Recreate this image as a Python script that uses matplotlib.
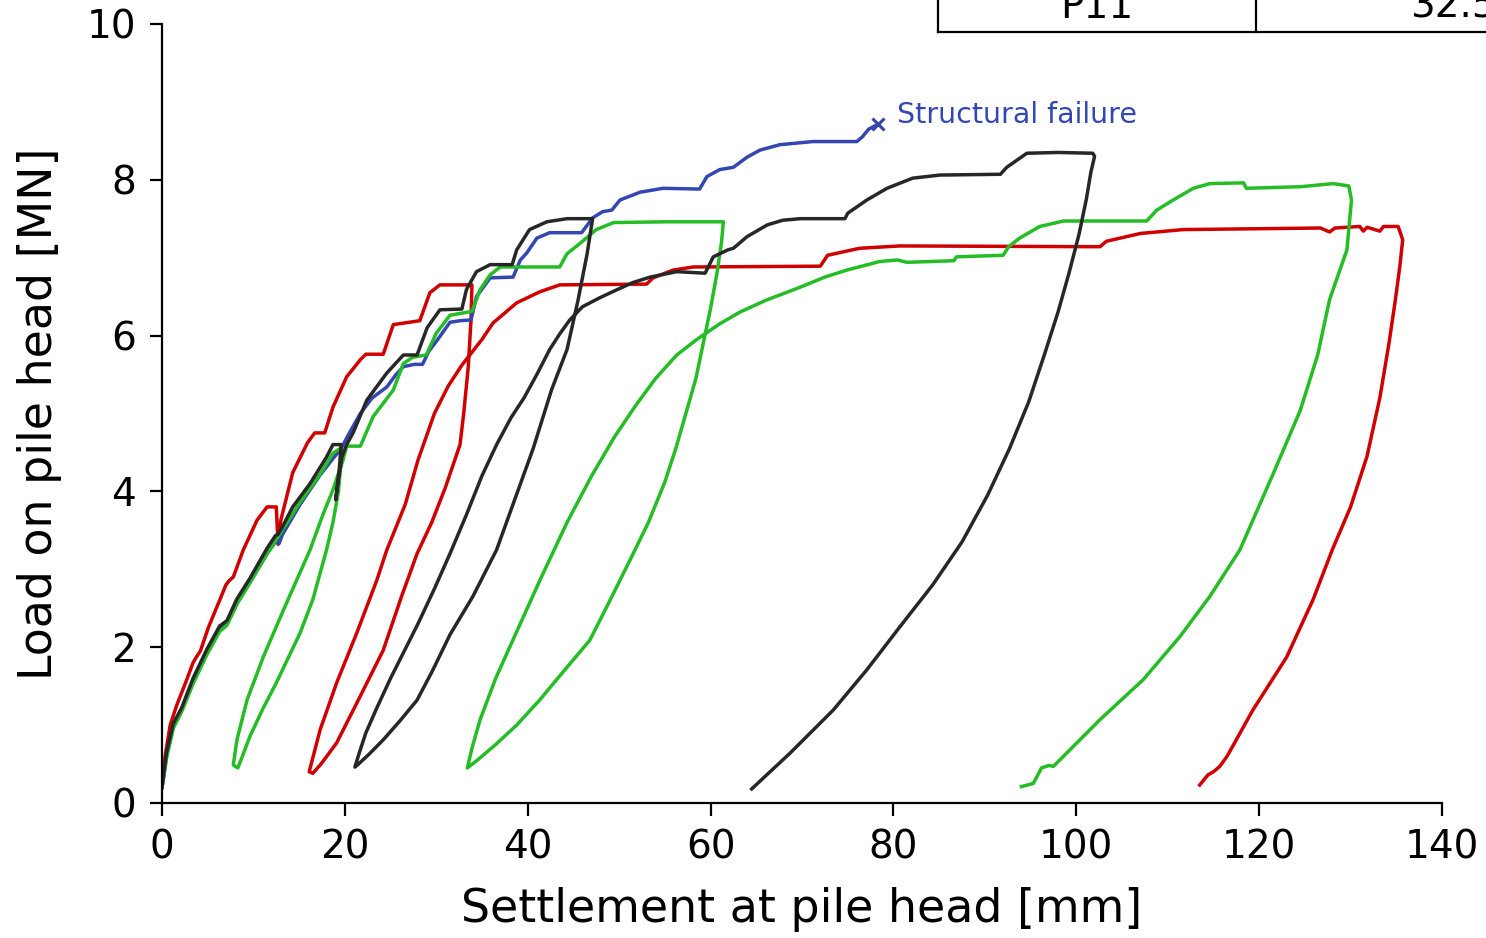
import matplotlib
matplotlib.use("Agg")
import matplotlib.pyplot as plt

# settlement at pile head [mm] and load [MN], full load/unload/reload trace per test
red_s = [0, 0.15, 0.33, 0.9, 1.6, 2.7, 3.4, 3.8, 4.2, 5.1, 6.3, 7.0, 7.4, 7.8, 8.9, 10.4, 11.5, 12.5, 12.7, 13.0,
         14.3, 15.9, 16.7, 17.8, 18.7, 20.2, 21.7, 22.3, 24.2, 25.3, 28.2, 29.3, 30.4, 33.9,
         33.8, 33.5, 33.0, 32.6, 31.0, 29.5, 27.9, 26.2, 24.2, 21.3, 19.1, 17.4, 16.5,
         16.1, 17.3, 19.1, 21.3, 23.5, 24.6, 26.6, 28.0, 29.8, 31.3, 32.8, 34.0, 35.0, 36.2, 38.8, 41.3, 43.5,
         53.0, 53.7, 55.9, 58.1, 72.0, 72.8, 76.3, 80.7, 102.6, 103.3, 107.0, 111.7, 126.7, 127.7, 128.3,
         131.0, 131.4, 131.8, 133.2, 133.6, 135.2,
         135.7, 135.4, 134.9, 134.2, 133.2, 131.8, 130.0, 128.0, 125.9, 123.0, 119.3, 116.5, 115.7, 115.0,
         114.4, 113.5]
red_q = [0.2, 0.35, 0.59, 1.0, 1.25, 1.58, 1.8, 1.88, 1.95, 2.26, 2.6, 2.8, 2.86, 2.9, 3.25, 3.63, 3.8, 3.8, 3.32, 3.63,
         4.24, 4.62, 4.75, 4.75, 5.08, 5.47, 5.69, 5.76, 5.76, 6.14, 6.19, 6.55, 6.65, 6.65,
         6.2, 5.6, 5.0, 4.6, 4.05, 3.6, 3.2, 2.65, 1.96, 1.28, 0.77, 0.5, 0.38,
         0.40, 0.94, 1.54, 2.18, 2.86, 3.25, 3.83, 4.4, 5.0, 5.35, 5.62, 5.8, 5.95, 6.16, 6.42, 6.56, 6.65,
         6.66, 6.74, 6.84, 6.88, 6.89, 7.03, 7.12, 7.15, 7.14, 7.21, 7.31, 7.36, 7.38, 7.33, 7.38,
         7.4, 7.34, 7.39, 7.34, 7.4, 7.4,
         7.23, 6.9, 6.46, 5.9, 5.2, 4.45, 3.8, 3.25, 2.61, 1.87, 1.19, 0.6, 0.47, 0.40,
         0.36, 0.23]

blue_s = [0, 0.14, 0.5, 1.24, 2.15, 3.4, 4.9, 6.3, 7.1, 8.2, 9.6, 11.5, 12.4, 12.8, 13.2, 15.1, 17.3, 18.9, 19.5, 20.5,
          21.7, 23.0, 24.6, 25.6, 26.4, 27.6, 28.5, 29.2, 30.1, 31.5, 32.6, 33.8, 34.4, 35.9, 38.4, 39.2, 39.9, 41.0,
          42.4, 45.9, 47.1, 48.2, 49.2, 50.1, 52.3, 54.8, 58.8, 59.6, 61.0, 62.5, 64.0, 65.4, 67.6, 71.2, 76.0, 76.6,
          77.3, 78.3]
blue_q = [0.2, 0.3, 0.6, 0.98, 1.19, 1.55, 1.93, 2.23, 2.3, 2.57, 2.83, 3.2, 3.35, 3.33, 3.45, 3.83, 4.21, 4.45, 4.53, 4.75,
          5.0, 5.2, 5.34, 5.5, 5.6, 5.63, 5.63, 5.8, 5.94, 6.17, 6.19, 6.2, 6.5, 6.74, 6.75, 6.97, 7.06, 7.25,
          7.32, 7.32, 7.51, 7.59, 7.61, 7.74, 7.84, 7.89, 7.88, 8.04, 8.13, 8.16, 8.29, 8.38, 8.45, 8.49, 8.49, 8.55,
          8.65, 8.71]

green_s = [0, 0.14, 0.5, 1.24, 2.15, 3.4, 4.9, 6.3, 7.1, 8.2, 9.6, 11.5, 12.5, 15.1, 17.3, 18.7, 19.5,
           19.6, 19.3, 18.7, 18.0, 16.5, 15.1, 12.5, 11.0, 9.6, 8.8, 8.3, 8.0,
           7.8, 8.2, 9.3, 11.1, 13.3, 16.2, 17.6, 18.7, 19.8, 20.2, 21.7, 23.1, 25.3, 26.4, 27.4, 28.9, 30.0, 31.5,
           33.9, 34.8, 35.9, 37.0, 43.5, 44.3, 45.7, 47.5, 49.4, 55.2, 61.4,
           61.2, 60.7, 60.0, 59.2, 58.4, 57.3, 56.2, 55.0, 53.2, 51.2, 49.0, 46.8, 44.0, 41.3, 38.8, 36.5, 34.5, 33.4,
           33.9, 34.8, 36.5, 38.8, 41.5, 44.3, 47.0, 49.5, 51.8, 54.0, 56.3, 58.5, 61.0, 63.2, 66.0, 69.8, 72.5,
           74.9, 78.5, 80.4, 81.5, 86.6, 86.9, 92.0, 92.6, 93.8, 96.0, 98.6, 107.7, 108.8, 110.6, 112.8, 114.6,
           118.3, 118.6, 124.5, 128.1, 129.8,
           130.1, 129.6, 127.7, 126.4, 124.5, 121.7, 117.9, 114.6, 111.3, 107.3, 102.6, 97.5, 97.0, 96.2, 95.3, 94.0]
green_q = [0.2, 0.3, 0.58, 0.96, 1.17, 1.53, 1.9, 2.2, 2.28, 2.55, 2.82, 3.2, 3.38, 3.86, 4.22, 4.49, 4.55,
           4.4, 4.0, 3.6, 3.25, 2.61, 2.18, 1.54, 1.2, 0.85, 0.6, 0.45, 0.47,
           0.49, 0.81, 1.32, 1.88, 2.48, 3.25, 3.7, 4.02, 4.4, 4.58, 4.58, 4.96, 5.3, 5.64, 5.72, 5.75, 6.03, 6.26,
           6.31, 6.59, 6.78, 6.88, 6.88, 7.05, 7.18, 7.36, 7.45, 7.46, 7.46,
           7.2, 6.8, 6.35, 5.9, 5.45, 5.0, 4.55, 4.12, 3.6, 3.12, 2.6, 2.09, 1.7, 1.32, 1.0, 0.75, 0.55, 0.45,
           0.7, 1.07, 1.6, 2.2, 2.9, 3.6, 4.2, 4.7, 5.1, 5.45, 5.75, 5.95, 6.15, 6.3, 6.45, 6.62, 6.75,
           6.84, 6.95, 6.97, 6.94, 6.96, 7.01, 7.03, 7.14, 7.25, 7.40, 7.47, 7.47, 7.61, 7.74, 7.89, 7.95,
           7.96, 7.89, 7.91, 7.95, 7.92,
           7.74, 7.1, 6.46, 5.75, 5.04, 4.27, 3.25, 2.65, 2.13, 1.58, 1.07, 0.47, 0.48, 0.45, 0.25, 0.21]

black_s = [0, 0.14, 0.5, 1.24, 2.15, 3.4, 4.9, 6.3, 7.1, 8.2, 9.6, 11.5, 12.4, 12.7, 13.2, 14.3, 16.2, 18.0, 18.7, 19.6,
           19.4, 19.0, 19.3, 19.7, 20.2, 20.9, 22.4, 24.6, 26.4, 27.9, 29.0, 30.4, 32.8, 33.3, 34.4, 35.9, 38.3,
           38.8, 40.2, 42.1, 44.3, 47.1,
           46.5, 45.5, 44.3, 42.6, 40.6, 38.6, 36.6, 34.0, 31.5, 29.6, 27.9, 26.0, 24.2, 22.6, 21.5, 21.1,
           21.6, 22.3, 23.5, 25.0, 26.5, 28.0, 29.8, 31.5, 33.3, 35.0, 36.6, 38.2, 39.6, 41.0, 42.4, 43.5, 44.6,
           46.0, 47.8, 49.8, 51.5, 53.4, 56.3, 59.4, 60.3, 61.9, 62.5, 64.0, 66.2, 67.9, 69.8, 74.7, 75.0, 77.1,
           79.3, 82.1, 85.1, 91.7, 92.4, 94.6, 98.0, 101.8,
           102.0, 101.6, 101.1, 100.3, 99.2, 98.0, 96.5, 94.8, 92.7, 90.3, 87.5, 84.3, 80.7, 77.1, 73.4, 68.7, 64.5]
black_q = [0.2, 0.32, 0.65, 1.02, 1.22, 1.6, 1.97, 2.27, 2.34, 2.62, 2.88, 3.27, 3.43, 3.45, 3.55, 3.80, 4.1, 4.44, 4.6, 4.6,
           4.3, 3.89, 4.15, 4.45, 4.6, 4.75, 5.17, 5.52, 5.75, 5.75, 6.1, 6.33, 6.34, 6.59, 6.82, 6.91, 6.91,
           7.1, 7.36, 7.46, 7.5, 7.5,
           7.05, 6.45, 5.82, 5.3, 4.55, 3.9, 3.25, 2.65, 2.16, 1.7, 1.32, 1.05, 0.81, 0.62, 0.5, 0.46,
           0.65, 0.9, 1.22, 1.6, 1.95, 2.3, 2.75, 3.2, 3.7, 4.2, 4.6, 4.95, 5.2, 5.5, 5.82, 6.02, 6.2,
           6.37, 6.48, 6.59, 6.68, 6.75, 6.82, 6.8, 7.01, 7.1, 7.12, 7.27, 7.42, 7.48, 7.5, 7.5, 7.57, 7.74,
           7.89, 8.02, 8.06, 8.07, 8.16, 8.34, 8.35, 8.34,
           8.3, 8.1, 7.75, 7.3, 6.8, 6.3, 5.75, 5.15, 4.55, 3.95, 3.35, 2.8, 2.26, 1.71, 1.19, 0.64, 0.18]

table_row = ["P11", "32.5"]

c_red = "#d10000"
c_blue = "#3346b2"
c_green = "#25bd25"
c_black = "#272727"

fig = plt.figure(figsize=(14.86, 9.38), dpi=100)
ax = fig.add_axes([0.109, 0.144, 0.8614, 0.8305])

lw = 2.5
ax.plot(red_s, red_q, color=c_red, lw=lw)
ax.plot(blue_s, blue_q, color=c_blue, lw=lw)
ax.plot(green_s, green_q, color=c_green, lw=lw)
ax.plot(black_s, black_q, color=c_black, lw=lw)

# failure point at the end of the blue test
ax.plot(blue_s[-1], blue_q[-1], marker="x", color=c_blue, ms=9, mew=2.2)
ax.text(80.4, blue_q[-1] + 0.12, "Structural failure", color=c_blue, fontsize=20.5, va="center", ha="left")

ax.set_xlim(0, 140)
ax.set_ylim(0, 10)
ax.set_xticks(range(0, 141, 20))
ax.set_yticks(range(0, 11, 2))
ax.set_xlabel("Settlement at pile head [mm]", fontsize=33, labelpad=15)
ax.set_ylabel("Load on pile head [MN]", fontsize=33, labelpad=18)
ax.tick_params(labelsize=28, length=9, width=1.6, pad=9.5)
for side in ("top", "right"):
    ax.spines[side].set_visible(False)
for side in ("left", "bottom"):
    ax.spines[side].set_linewidth(1.6)

# last row of the pile table sticking in at the top right
tkw = dict(transform=ax.transAxes, color="black", lw=1.6, clip_on=False)
ax.plot([0.606, 1.2], [0.9897, 0.9897], **tkw)
ax.plot([0.606, 0.606], [0.9897, 1.1], **tkw)
ax.plot([0.855, 0.855], [0.9897, 1.1], **tkw)
ax.text(0.7305, 1.0077, table_row[0], transform=ax.transAxes, fontsize=28, ha="center", va="baseline")
ax.text(0.975, 1.0077, table_row[1], transform=ax.transAxes, fontsize=28, ha="left", va="baseline")

fig.savefig("out.png", dpi=100)
